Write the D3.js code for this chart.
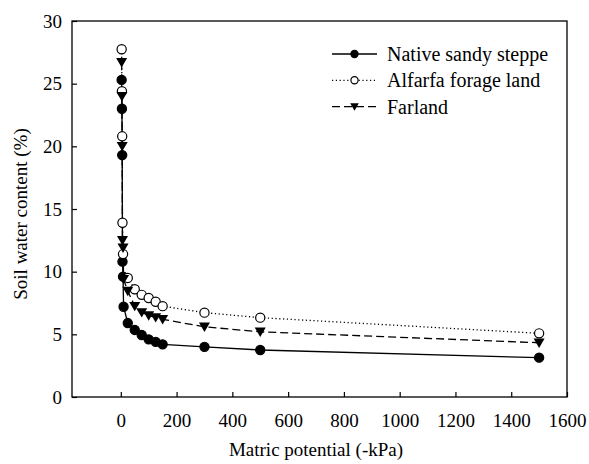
<!DOCTYPE html>
<html>
<head>
<meta charset="utf-8">
<script src="https://cdn.jsdelivr.net/npm/d3@7"></script>
<style>
  body { margin: 0; background: #fff; }
</style>
</head>
<body>
<svg id="chart" width="589" height="464"></svg>
<script>
// matric potential (-kPa) for each measurement
var potential = [3, 4, 5, 6, 8, 10, 25, 50, 75, 100, 125, 150, 300, 500, 1500];

var nativeSteppe = [25.3, 23.0, 19.3, 10.8, 9.6, 7.2, 5.9, 5.35, 4.95, 4.6, 4.4, 4.2, 4.0, 3.75, 3.14];
var alfarfa      = [27.75, 24.4, 20.8, 13.9, 11.4, null, 9.5, 8.6, 8.15, 7.9, 7.6, 7.25, 6.73, 6.33, 5.08];
var farland      = [26.7, 24.0, 20.0, 12.5, 11.9, 9.4, 8.45, 7.25, 6.75, 6.5, 6.35, 6.2, 5.6, 5.2, 4.33];

var xTicks = [0, 200, 400, 600, 800, 1000, 1200, 1400, 1600];
var yTicks = [0, 5, 10, 15, 20, 25, 30];

var seriesNames = ["Native sandy steppe", "Alfarfa forage land", "Farland"];

var svg = d3.select("#chart"),
    plotLeft = 72, plotRight = 567, plotTop = 21, plotBottom = 397,
    serif = "'Liberation Serif', 'Times New Roman', serif",
    fs = "19px";

var x = d3.scaleLinear().domain([-175, 1600]).range([plotLeft, plotRight]);
var y = d3.scaleLinear().domain([0, 30]).range([plotBottom, plotTop]);

var series = [
  { name: seriesNames[0], values: nativeSteppe, dash: null, marker: "filled" },
  { name: seriesNames[1], values: alfarfa, dash: "1.2,2.6", marker: "open" },
  { name: seriesNames[2], values: farland, dash: "8,4", marker: "tri" }
];

// frame
svg.append("rect")
    .attr("x", plotLeft).attr("y", plotTop)
    .attr("width", plotRight - plotLeft).attr("height", plotBottom - plotTop)
    .attr("fill", "none").attr("stroke", "#000").attr("stroke-width", 1.3);

// axes, ticks pointing inside
var xAxis = svg.append("g")
    .attr("transform", "translate(0," + plotBottom + ")")
    .call(d3.axisBottom(x).tickValues(xTicks).tickSize(-5).tickPadding(17).tickFormat(d3.format("d")));
var yAxis = svg.append("g")
    .attr("transform", "translate(" + plotLeft + ",0)")
    .call(d3.axisLeft(y).tickValues(yTicks).tickSize(-5).tickPadding(10));

[xAxis, yAxis].forEach(function(a) {
  a.attr("font-family", null).attr("font-size", null);
  a.select(".domain").remove();
  a.selectAll("line").attr("stroke", "#000").attr("stroke-width", 1.2);
  a.selectAll("text").attr("fill", "#000").style("font-family", serif).style("font-size", fs);
});
xAxis.selectAll("text").attr("dy", "0.71em");

svg.append("text")
    .attr("x", 316).attr("y", 456)
    .attr("text-anchor", "middle")
    .style("font-family", serif).style("font-size", fs)
    .text("Matric potential (-kPa)");

svg.append("text")
    .attr("transform", "translate(27,214) rotate(-90)")
    .attr("text-anchor", "middle")
    .style("font-family", serif).style("font-size", fs)
    .text("Soil water content (%)");

var line = d3.line()
    .defined(function(d) { return d[1] != null; })
    .x(function(d) { return x(d[0]); })
    .y(function(d) { return y(d[1]); });

function drawMarker(g, type, cx, cy, r) {
  if (type == "tri") {
    var h = r * 2.05, w = r * 1.2;
    g.append("path")
        .attr("d", "M" + (cx - w) + "," + (cy - h * 0.45) + "L" + (cx + w) + "," + (cy - h * 0.45) +
                   "L" + cx + "," + (cy + h * 0.55) + "Z")
        .attr("fill", "#000");
  } else {
    g.append("circle")
        .attr("cx", cx).attr("cy", cy).attr("r", r)
        .attr("fill", type == "open" ? "#fff" : "#000")
        .attr("stroke", "#000").attr("stroke-width", 1.2);
  }
}

series.forEach(function(s) {
  var pts = potential.map(function(p, i) { return [p, s.values[i]]; });
  svg.append("path")
      .datum(pts)
      .attr("fill", "none")
      .attr("stroke", "#000")
      .attr("stroke-width", 1.3)
      .attr("stroke-dasharray", s.dash)
      .attr("d", line);
});

series.forEach(function(s) {
  var g = svg.append("g");
  potential.forEach(function(p, i) {
    if (s.values[i] == null) return;
    drawMarker(g, s.marker, x(p), y(s.values[i]), 4.6);
  });
});

// legend
var legend = svg.append("g");
series.forEach(function(s, i) {
  var ly = 54 + i * 26.3;
  legend.append("line")
      .attr("x1", 332).attr("x2", 377).attr("y1", ly).attr("y2", ly)
      .attr("stroke", "#000").attr("stroke-width", 1.3)
      .attr("stroke-dasharray", s.dash);
  drawMarker(legend, s.marker, 354.5, ly, 3.6);
  legend.append("text")
      .attr("x", 387).attr("y", ly).attr("dy", "0.35em")
      .style("font-family", serif).style("font-size", "20px")
      .text(s.name);
});
</script>
</body>
</html>
